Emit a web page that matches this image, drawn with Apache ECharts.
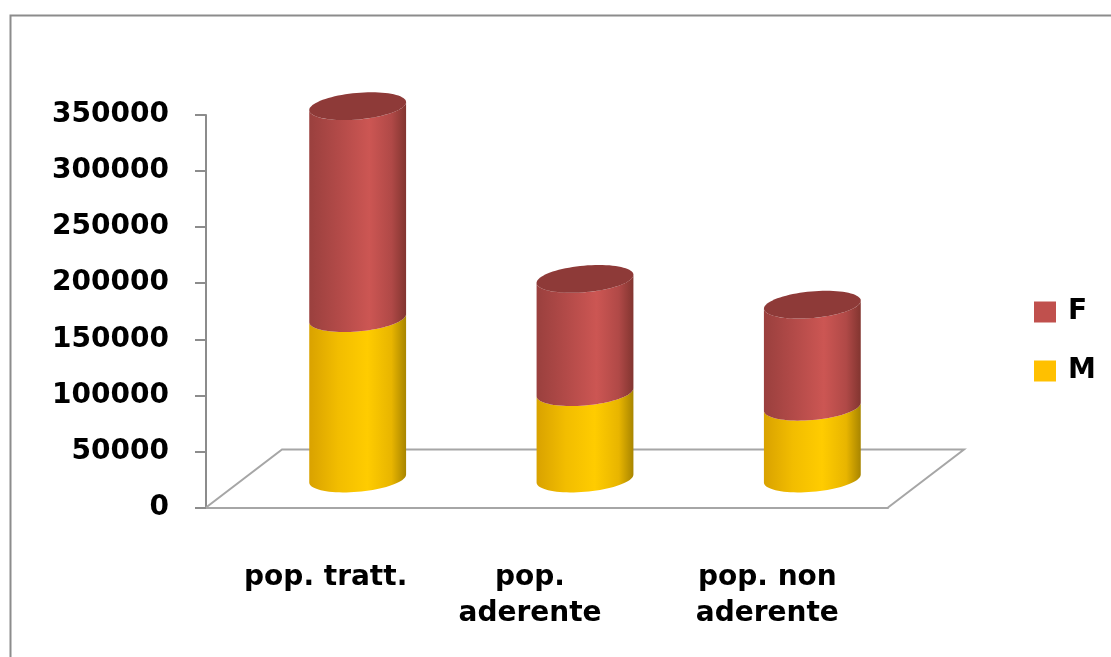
<!DOCTYPE html>
<html>
<head>
<meta charset="utf-8">
<script src="https://cdn.jsdelivr.net/npm/echarts@6/dist/echarts.min.js"></script>
<style>html,body{margin:0;padding:0;background:#fff;}#c{width:1111px;height:657px;}</style>
</head>
<body>
<div id="c"></div>
<script>
const categories = ['pop. tratt.', 'pop.\naderente', 'pop. non\naderente'];
const valuesM = [143000, 77000, 64000];
const valuesF = [189000, 101000, 91000];
const yTicks = { min: 0, max: 350000, interval: 50000 };

const DX = 76, DY = -58;            // floor depth offset (pixels)
const FONT = 'DejaVu Sans';

function cylinder(params, api, sideStops, capColor, drawCap) {
  const ci = api.value(0), v0 = api.value(1), v1 = api.value(2);
  const p0 = api.coord([ci, v0]);
  const p1 = api.coord([ci, v1]);
  const bandW = api.size([1, 0])[0];
  const r = bandW * 0.204;
  const ax = r * 0.3, ay = -r * 0.3;   // cap depth projection
  const cx = p0[0] + DX / 2;
  const y0 = p0[1] + DY / 2;
  const y1 = p1[1] + DY / 2;
  const t0 = Math.atan2(ax, r);
  const pt = (t, y) => [cx + r * Math.cos(t) + ax * Math.sin(t), y + ay * Math.sin(t)];
  const N = 40;
  const side = [];
  for (let i = 0; i <= N; i++) side.push(pt(t0 + Math.PI + Math.PI * i / N, y0));
  for (let i = 0; i <= N; i++) side.push(pt(t0 + 2 * Math.PI - Math.PI * i / N, y1));
  const children = [{
    type: 'polygon', shape: { points: side },
    style: { fill: { type: 'linear', x: 0, y: 0, x2: 1, y2: 0, colorStops: sideStops } }
  }];
  if (drawCap) {
    const cap = [];
    for (let i = 0; i < 2 * N; i++) cap.push(pt(Math.PI * i / N, y1));
    children.push({ type: 'polygon', shape: { points: cap }, style: { fill: capColor } });
  }
  return { type: 'group', children };
}

const stopsF = [
  { offset: 0, color: '#9a403e' }, { offset: 0.3, color: '#b24a48' },
  { offset: 0.62, color: '#cc5653' }, { offset: 0.85, color: '#b04947' },
  { offset: 1, color: '#823530' }
];
const stopsM = [
  { offset: 0, color: '#d9a200' }, { offset: 0.3, color: '#f2bd00' },
  { offset: 0.6, color: '#ffcc00' }, { offset: 0.85, color: '#e8b500' },
  { offset: 1, color: '#a88500' }
];

const dataM = categories.map((c, i) => [i, 0, valuesM[i]]);
const dataF = categories.map((c, i) => [i, valuesM[i], valuesM[i] + valuesF[i]]);

const chart = echarts.init(document.getElementById('c'), null, { renderer: 'canvas' });
chart.setOption({
  backgroundColor: '#fff',
  animation: false,
  graphic: [{
    type: 'rect', left: 8, top: 13, z: 100,
    shape: { width: 1200, height: 700 },
    style: { fill: 'none', stroke: '#8c8c8c', lineWidth: 2 }
  }],
  grid: { left: 206, right: 223, top: 115, bottom: 149.5 },
  legend: {
    data: ['F', 'M'], orient: 'vertical', left: 1034, top: 298, padding: 0,
    itemWidth: 22, itemHeight: 21, itemGap: 31, icon: 'rect',
    textStyle: { fontFamily: FONT, fontWeight: 'bold', fontSize: 28, color: '#000', padding: [0, 0, 0, 7] },
    selectedMode: false
  },
  xAxis: {
    type: 'category', data: categories,
    axisLine: { lineStyle: { color: '#a6a6a6', width: 2 } },
    axisTick: { length: 12, lineStyle: { color: '#8c8c8c', width: 2 } },
    axisLabel: {
      margin: 52, interval: 0, color: '#000',
      fontFamily: FONT, fontWeight: 'bold', fontSize: 28, lineHeight: 36,
      formatter: (v, i) => v.split('\n').map(s => '{c' + i + '|' + s + '}').join('\n'),
      rich: {
        c0: { fontFamily: FONT, fontWeight: 'bold', fontSize: 28, lineHeight: 36, padding: [0, 0, 0, 12] },
        c1: { fontFamily: FONT, fontWeight: 'bold', fontSize: 28, lineHeight: 36, padding: [0, 34, 0, 0] },
        c2: { fontFamily: FONT, fontWeight: 'bold', fontSize: 28, lineHeight: 36, padding: [0, 14, 0, 0] }
      }
    }
  },
  yAxis: {
    type: 'value', min: yTicks.min, max: yTicks.max, interval: yTicks.interval,
    axisLine: { show: true, lineStyle: { color: '#8c8c8c', width: 2 } },
    axisTick: { show: true, length: 11, lineStyle: { color: '#8c8c8c', width: 2 } },
    splitLine: { show: false },
    axisLabel: {
      margin: 37, color: '#000', fontFamily: FONT, fontWeight: 'bold', fontSize: 28,
      formatter: (v) => String(v)
    }
  },
  series: [
    {
      type: 'custom', name: 'floor', silent: true, clip: false, z: 1,
      data: [[0, 0, 0]],
      renderItem: (params) => {
        const cs = params.coordSys;
        const bx = cs.x, by = cs.y + cs.height, w = cs.width;
        return {
          type: 'polyline',
          shape: { points: [[bx, by], [bx + DX, by + DY], [bx + w + DX, by + DY], [bx + w, by]] },
          style: { stroke: '#a6a6a6', lineWidth: 2, fill: null }
        };
      }
    },
    {
      type: 'custom', name: 'M', z: 3, clip: false,
      itemStyle: { color: '#ffc000' },
      encode: { x: 0, y: 2 },
      data: dataM,
      renderItem: (p, api) => cylinder(p, api, stopsM, '#e0a800', false)
    },
    {
      type: 'custom', name: 'F', z: 4, clip: false,
      itemStyle: { color: '#c0504d' },
      encode: { x: 0, y: 2 },
      data: dataF,
      renderItem: (p, api) => cylinder(p, api, stopsF, '#8e3a38', true)
    }
  ]
});
</script>
</body>
</html>
